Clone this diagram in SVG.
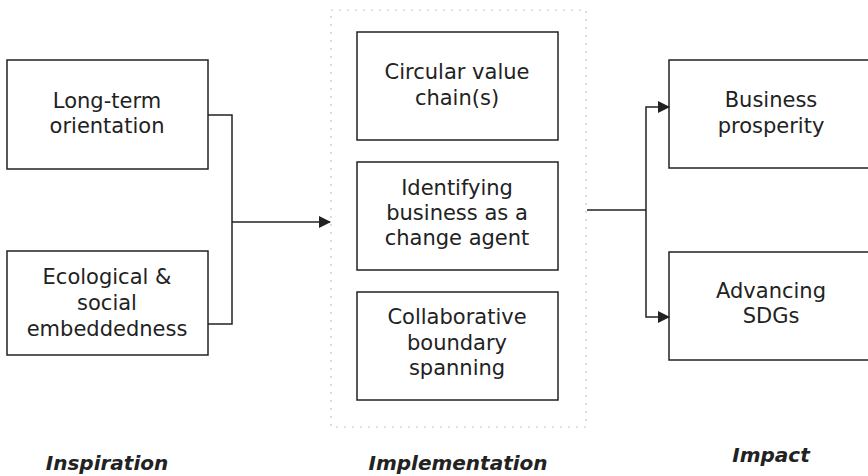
<svg xmlns="http://www.w3.org/2000/svg" width="868" height="476" viewBox="0 0 868 476">
<style>
.box{fill:#fff;stroke:#222;stroke-width:1.5}
.t{font-family:"DejaVu Sans","Liberation Sans",sans-serif;font-size:21px;fill:#222;text-anchor:middle}
.h{font-family:"DejaVu Sans","Liberation Sans",sans-serif;font-size:20px;font-weight:bold;font-style:italic;fill:#222;text-anchor:middle}
.c{fill:none;stroke:#222;stroke-width:1.5}
.dash{fill:none;stroke:#c8c8c8;stroke-width:1.2;stroke-dasharray:2 6}
</style>
<defs>
<marker id="ah" markerWidth="12" markerHeight="12" refX="11" refY="6" orient="auto" markerUnits="userSpaceOnUse">
<path d="M0,0 L12,6 L0,12 Z" fill="#222"/>
</marker>
</defs>
<rect class="dash" x="331" y="10" width="255" height="417"/>
<g id="n-longterm"><rect class="box" x="7" y="60" width="201" height="109"/>
<text class="t" x="107" y="108">Long-term</text><text class="t" x="107" y="133">orientation</text></g>
<g id="n-ecological"><rect class="box" x="7" y="251" width="201" height="104"/>
<text class="t" x="107" y="284">Ecological &amp;</text><text class="t" x="107" y="310">social</text><text class="t" x="107" y="336">embeddedness</text></g>
<g id="n-circular"><rect class="box" x="357" y="32" width="201" height="108"/>
<text class="t" x="457" y="79">Circular value</text><text class="t" x="457" y="105">chain(s)</text></g>
<g id="n-identifying"><rect class="box" x="357" y="162" width="201" height="108"/>
<text class="t" x="457" y="195">Identifying</text><text class="t" x="457" y="220">business as a</text><text class="t" x="457" y="245">change agent</text></g>
<g id="n-collab"><rect class="box" x="357" y="292" width="201" height="108"/>
<text class="t" x="457" y="324">Collaborative</text><text class="t" x="457" y="350">boundary</text><text class="t" x="457" y="375">spanning</text></g>
<g id="n-business"><rect class="box" x="669" y="60" width="210" height="108"/>
<text class="t" x="771" y="107">Business</text><text class="t" x="771" y="133">prosperity</text></g>
<g id="n-sdgs"><rect class="box" x="669" y="252" width="210" height="108"/>
<text class="t" x="771" y="298">Advancing</text><text class="t" x="771" y="323">SDGs</text></g>
<g id="connectors">
<path class="c" d="M208,115 H232 V324 H208"/>
<path class="c" d="M232,222 H330" marker-end="url(#ah)"/>
<path class="c" d="M587,210 H646"/>
<path class="c" d="M646,210 V107 H669" marker-end="url(#ah)"/>
<path class="c" d="M646,210 V317 H669" marker-end="url(#ah)"/>
</g>
<g id="labels">
<text class="h" x="107" y="470">Inspiration</text>
<text class="h" x="458" y="470">Implementation</text>
<text class="h" x="771" y="462">Impact</text>
</g>
</svg>
